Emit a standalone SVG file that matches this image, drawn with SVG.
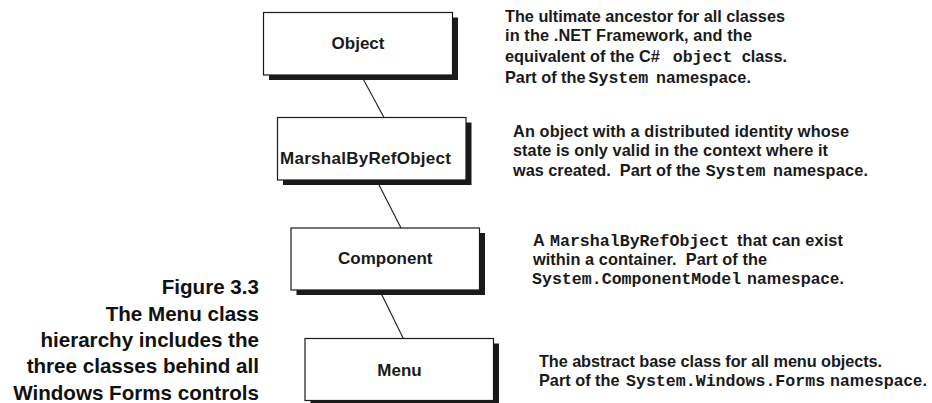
<svg xmlns="http://www.w3.org/2000/svg" width="932" height="403" viewBox="0 0 932 403">
<style>
.shadow{fill:#1a1a1a;stroke:none}
.box{fill:#fff;stroke:#1a1a1a;stroke-width:1.2}
.lbl{font-family:"Liberation Sans",Arial,sans-serif;font-weight:bold;font-size:17px;fill:#1a1a1a;text-anchor:middle}
.d{font-family:"Liberation Sans",Arial,sans-serif;font-weight:bold;font-size:16.3px;fill:#1a1a1a}
.m{font-family:"Liberation Mono","Courier New",monospace;font-weight:bold;font-size:16.6px;fill:#1a1a1a}
.cap{font-family:"Liberation Sans",Arial,sans-serif;font-weight:bold;font-size:20.6px;fill:#111;text-anchor:end}
.edge{stroke:#1a1a1a;stroke-width:1.1;fill:none}
</style>
<rect width="932" height="403" fill="#fff"/>
<g id="connectors">
<line class="edge" x1="361" y1="75" x2="384" y2="117.5"/>
<line class="edge" x1="376.5" y1="180" x2="401" y2="228"/>
<line class="edge" x1="379.5" y1="290" x2="403.3" y2="338.5"/>
</g>
<g id="node-object">
<rect class="shadow" x="269" y="17.5" width="189" height="62.5"/>
<rect class="box" x="263.5" y="12.5" width="189" height="62.5"/>
<text class="lbl" x="358" y="49">Object</text>
</g>
<g id="node-marshalbyrefobject">
<rect class="shadow" x="283" y="122.5" width="188.5" height="62.5"/>
<rect class="box" x="277.5" y="117.5" width="188.5" height="62.5"/>
<text class="lbl" x="280" y="163.5" text-anchor="start" style="text-anchor:start" textLength="171">MarshalByRefObject</text>
</g>
<g id="node-component">
<rect class="shadow" x="296.5" y="233" width="188.5" height="62"/>
<rect class="box" x="291" y="228" width="188.5" height="62"/>
<text class="lbl" x="385.3" y="264">Component</text>
</g>
<g id="node-menu">
<rect class="shadow" x="310.5" y="343.5" width="188.5" height="62"/>
<rect class="box" x="305" y="338.5" width="188.5" height="62"/>
<text class="lbl" x="399.5" y="375.7">Menu</text>
</g>
<g id="note-object">
<text class="d" x="505" y="22" textLength="280">The ultimate ancestor for all classes</text>
<text class="d" x="505" y="41" textLength="247">in the .NET Framework, and the</text>
<text class="d" x="505" y="61.5">equivalent of the C#</text>
<text class="m" x="672.7" y="61.5">object</text>
<text class="d" x="741.7" y="61.5">class.</text>
<text class="d" x="505" y="83">Part of the</text>
<text class="m" x="588.5" y="83">System</text>
<text class="d" x="656" y="83" textLength="95">namespace.</text>
</g>
<g id="note-marshalbyrefobject">
<text class="d" x="513" y="136.5" textLength="336">An object with a distributed identity whose</text>
<text class="d" x="513" y="155.5" textLength="315">state is only valid in the context where it</text>
<text class="d" x="513" y="175.5" xml:space="preserve">was created.  Part of the</text>
<text class="m" x="705.7" y="175.5">System</text>
<text class="d" x="773" y="175.5" textLength="95">namespace.</text>
</g>
<g id="note-component">
<text class="d" x="533" y="246">A</text>
<text class="m" x="550" y="246">MarshalByRefObject</text>
<text class="d" x="737" y="246" textLength="106">that can exist</text>
<text class="d" x="533" y="264.5" textLength="234" xml:space="preserve">within a container.  Part of the</text>
<text class="m" x="532" y="284">System.ComponentModel</text>
<text class="d" x="747" y="284" textLength="97">namespace.</text>
</g>
<g id="note-menu">
<text class="d" x="539" y="367" textLength="343">The abstract base class for all menu objects.</text>
<text class="d" x="539" y="386">Part of the</text>
<text class="m" x="626" y="386">System.Windows.Forms</text>
<text class="d" x="830" y="386" textLength="97">namespace.</text>
</g>
<g id="caption">
<text class="cap" x="259" y="294">Figure 3.3</text>
<text class="cap" x="259" y="320.5">The Menu class</text>
<text class="cap" x="259" y="347">hierarchy includes the</text>
<text class="cap" x="259" y="373">three classes behind all</text>
<text class="cap" x="259" y="399.5">Windows Forms controls</text>
</g>
</svg>
